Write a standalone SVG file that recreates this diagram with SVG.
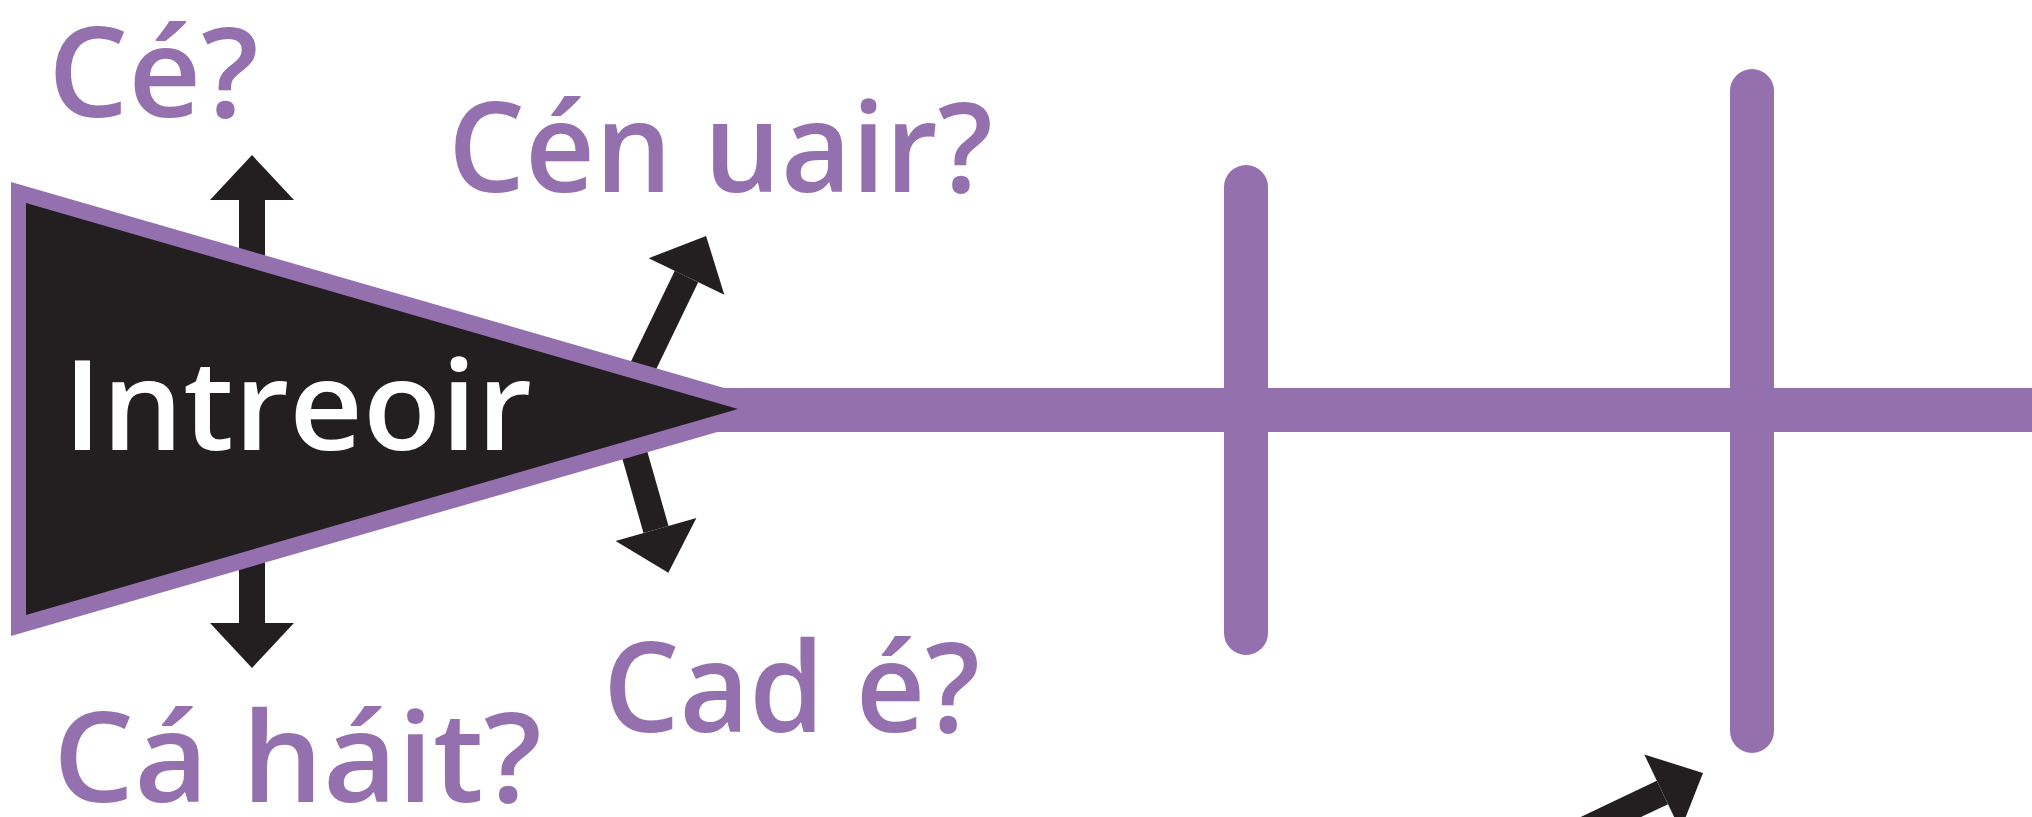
<svg xmlns="http://www.w3.org/2000/svg" width="2032" height="817" viewBox="0 0 2032 817">
  <style>
    .bone { stroke: #9570ae; stroke-width: 44; stroke-linecap: round; fill: none; }
    .spine { fill: #9570ae; }
    .arrow { stroke: #231f20; stroke-width: 26; stroke-linecap: butt; fill: none; marker-end: url(#head); }
    .lbl { font-family: "Open Sans", "Noto Sans", "DejaVu Sans", sans-serif; font-weight: 600; font-size: 125px; fill: #9570ae; }
    .title { font-family: "Open Sans", "Noto Sans", "DejaVu Sans", sans-serif; font-weight: 600; font-size: 125px; fill: #ffffff; }
  </style>
  <defs>
    <marker id="head" markerUnits="userSpaceOnUse" markerWidth="46" markerHeight="84" viewBox="0 0 46 84" refX="0" refY="42" orient="auto" overflow="visible">
      <path d="M0,0 L45,42 L0,84 Z" fill="#231f20"/>
    </marker>
  </defs>
  <rect width="2032" height="817" fill="#ffffff"/>

  <g id="skeleton">
    <rect class="spine" x="650" y="388" width="1382" height="44"/>
    <line class="bone" x1="1246" y1="187" x2="1246" y2="633"/>
    <line class="bone" x1="1752" y1="91" x2="1752" y2="731"/>
  </g>

  <g id="connectors">
    <line class="arrow" x1="252" y1="410" x2="252" y2="200"/>
    <line class="arrow" x1="252" y1="410" x2="252" y2="623"/>
    <line class="arrow" x1="622" y1="410" x2="686.5" y2="276.5"/>
    <line class="arrow" x1="622" y1="410" x2="656" y2="529.5"/>
    <line class="arrow" x1="1437" y1="900" x2="1662.4" y2="792.4"/>
  </g>

  <g id="node-intreoir">
    <polygon points="11,182 797,409 11,636" fill="#9570ae"/>
    <polygon points="26,203 738,409 26,615" fill="#231f20"/>
    <text class="title" x="63" y="450" textLength="469" lengthAdjust="spacingAndGlyphs">Intreoir</text>
  </g>

  <g id="node-ce">
    <text class="lbl" x="48" y="117" textLength="211" lengthAdjust="spacingAndGlyphs">Cé?</text>
  </g>
  <g id="node-cen-uair">
    <text class="lbl" x="448" y="192" textLength="545" lengthAdjust="spacingAndGlyphs">Cén uair?</text>
  </g>
  <g id="node-ca-hait">
    <text class="lbl" x="53" y="802" textLength="489" lengthAdjust="spacingAndGlyphs">Cá háit?</text>
  </g>
  <g id="node-cad-e">
    <text class="lbl" x="603" y="732" textLength="377" lengthAdjust="spacingAndGlyphs">Cad é?</text>
  </g>
</svg>
